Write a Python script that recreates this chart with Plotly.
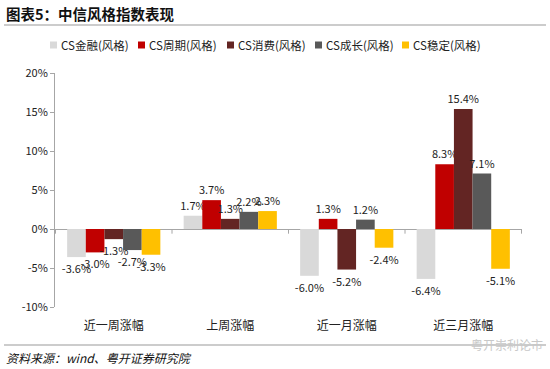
import plotly.graph_objects as go

categories = ["近一周涨幅", "上周涨幅", "近一月涨幅", "近三月涨幅"]
series_names = ["CS金融(风格)", "CS周期(风格)", "CS消费(风格)", "CS成长(风格)", "CS稳定(风格)"]
finance = [-3.6, 1.7, -6.0, -6.4]
cycle = [-3.0, 3.7, 1.3, 8.3]
consume = [-1.3, 1.3, -5.2, 15.4]
growth = [-2.7, 2.2, 1.2, 7.1]
stable = [-3.3, 2.3, -2.4, -5.1]
series_values = [finance, cycle, consume, growth, stable]
colors = ["#D9D9D9", "#C00000", "#632523", "#595959", "#FFC000"]
y_ticks = [-10, -5, 0, 5, 10, 15, 20]
y_tick_labels = ["-10%", "-5%", "0%", "5%", "10%", "15%", "20%"]

FONT = "Noto Sans CJK SC, Noto Sans, sans-serif"
W, H = 550, 369
ML, MR, MT, MB = 55, 28, 73, 62
PW, PH = W - ML - MR, H - MT - MB


def px_x(px):
    return (px - ML) / PW


def px_y(py):
    return (H - MB - py) / PH


fig = go.Figure()
for name, vals, col in zip(series_names, series_values, colors):
    fig.add_trace(go.Bar(
        x=categories, y=vals, name=name, marker_color=col,
        marker_line_width=0,
        text=[f"{v:.1f}%" for v in vals], textposition="outside",
        constraintext="none",
        textfont=dict(size=11, color="#222"), cliponaxis=False,
        showlegend=False,
    ))

fig.update_layout(
    width=W, height=H,
    margin=dict(l=ML, r=MR, t=MT, b=MB, autoexpand=False),
    paper_bgcolor="white", plot_bgcolor="white",
    barmode="group", bargap=0.2, bargroupgap=0,
    font=dict(family=FONT, size=11, color="#222"),
)
fig.update_xaxes(showline=False, ticks="", tickfont=dict(size=12, color="#222"),
                 showgrid=False, ticklabelstandoff=10)
fig.update_yaxes(range=[-10, 20], tickvals=y_ticks, ticktext=y_tick_labels,
                 showgrid=False, showline=True, linecolor="#A6A6A6", linewidth=1,
                 ticks="outside", ticklen=4, tickcolor="#A6A6A6",
                 zeroline=True, zerolinecolor="#A6A6A6", zerolinewidth=1,
                 tickfont=dict(size=11, color="#222"))

# category boundary tick marks on the zero line
for i in range(len(categories) + 1):
    fig.add_shape(type="line", xref="x", yref="y", x0=i - 0.5, x1=i - 0.5,
                  y0=0, y1=-0.6, line=dict(color="#A6A6A6", width=1))

# legend (compact, like the original)
leg_x = [50, 138, 227, 315, 402]
leg_y = 45
for lx, name, col in zip(leg_x, series_names, colors):
    fig.add_shape(type="rect", xref="paper", yref="paper",
                  x0=px_x(lx), x1=px_x(lx + 7), y0=px_y(leg_y + 3.5), y1=px_y(leg_y - 3.5),
                  fillcolor=col, line=dict(width=0))
    fig.add_annotation(text=name, xref="paper", yref="paper",
                       x=px_x(lx + 9), xanchor="left", y=px_y(leg_y), yanchor="middle",
                       showarrow=False, font=dict(size=11.5, color="#222", family=FONT))

# title and rules
fig.add_annotation(text="<b>图表5：中信风格指数表现</b>", xref="paper", yref="paper",
                   x=px_x(4), xanchor="left", y=px_y(13), yanchor="middle", showarrow=False,
                   font=dict(size=14.5, color="#111", family=FONT))
fig.add_shape(type="line", xref="paper", yref="paper", x0=px_x(4), x1=px_x(546),
              y0=px_y(25), y1=px_y(25), line=dict(color="#999999", width=1.2))
fig.add_shape(type="line", xref="paper", yref="paper", x0=px_x(4), x1=px_x(546),
              y0=px_y(345), y1=px_y(345), line=dict(color="#999999", width=1.2))
fig.add_annotation(text="<i>资料来源：wind、粤开证券研究院</i>", xref="paper", yref="paper",
                   x=px_x(4), xanchor="left", y=px_y(357), yanchor="middle", showarrow=False,
                   font=dict(size=12, color="#111", family=FONT))
fig.add_annotation(text="粤开崇利论市", xref="paper", yref="paper",
                   x=px_x(545), xanchor="right", y=px_y(344), yanchor="middle", showarrow=False,
                   font=dict(size=12, color="#C8C8C8", family=FONT))

fig.write_html("out.html", config={"displayModeBar": False},
               post_script="document.body.style.margin='0';")
